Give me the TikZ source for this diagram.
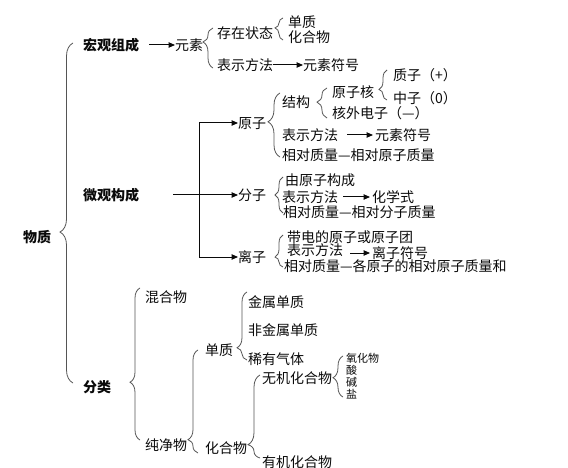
\documentclass[tikz,border=0pt]{standalone}
\usepackage{fontspec}
\setmainfont{Noto Sans CJK SC}
\usetikzlibrary{arrows.meta,calc,decorations.pathreplacing}
\definecolor{Ink}{RGB}{10,10,10}
\definecolor{BraceGray}{RGB}{85,85,85}
\tikzset{
  >=Triangle,
  item/.style={anchor=west,inner sep=0pt,text=Ink,font=\fontsize{14}{16}\selectfont,text height=10.6pt,text depth=0pt},
  small/.style={item,font=\fontsize{11}{13}\selectfont,text height=8.4pt},
  head/.style={item,font=\fontsize{14}{16}\selectfont\bfseries},
  arr/.style={-{Triangle[length=6.5pt,width=5.5pt]},line width=1pt,draw=Ink},
  brc/.style 2 args={draw=BraceGray,line width=.8pt,decorate,decoration={brace,mirror,amplitude=#1,aspect=#2}}
}

\begin{document}
\begin{tikzpicture}[x=1pt,y=-1pt]
  \path[use as bounding box] (0,0) rectangle (568,468);
  % top level
  \node[head] (wuzhi) at (23,237) {物质};
  \node[head] (hongguan) at (83,45) {宏观组成};
  \node[head] (weiguan) at (83,195) {微观构成};
  \node[head] (fenlei) at (83,387) {分类};
  % macro composition
  \node[item] (yuansu) at (175,45) {元素};
  \node[item] (cunzai) at (217,33) {存在状态};
  \node[item] (danzhiA) at (288,22) {单质};
  \node[item] (huaheA) at (288,37) {化合物};
  \node[item] (biaoshiA) at (217,65) {表示方法};
  \node[item] (fuhaoA) at (303,65) {元素符号};
  % micro structure
  \coordinate (fork) at (199,195);
  \node[item] (yuanzi) at (238,123) {原子};
  \node[item] (jiegou) at (282,102) {结构};
  \node[item] (hezi) at (332,92) {原子核};
  \node[item] (zhizi) at (393,75) {质子（+）};
  \node[item] (zhongzi) at (393,98) {中子（0）};
  \node[item] (hewai) at (332,113) {核外电子（—）};
  \node[item] (biaoshiB) at (282,135) {表示方法};
  \node[item] (fuhaoB) at (375,135) {元素符号};
  \node[item] (zhiliangA) at (282,155) {相对质量—相对原子质量};
  \node[item] (fenzi) at (238,195) {分子};
  \node[item] (goucheng) at (285,180) {由原子构成};
  \node[item] (biaoshiC) at (282,197) {表示方法};
  \node[item] (huaxueshi) at (372,197) {化学式};
  \node[item] (zhiliangB) at (283,212) {相对质量—相对分子质量};
  \node[item] (lizi) at (238,257) {离子};
  \node[item] (daidian) at (287,237) {带电的原子或原子团};
  \node[item] (biaoshiD) at (287,250) {表示方法};
  \node[item] (fuhaoC) at (372,253) {离子符号};
  \node[item] (zhiliangC) at (284,266) {相对质量—各原子的相对原子质量和};
  % classification
  \node[item] (hunhe) at (145,297) {混合物};
  \node[item] (chunjing) at (145,445) {纯净物};
  \node[item] (danzhiB) at (205,350) {单质};
  \node[item] (jinshu) at (248,302) {金属单质};
  \node[item] (feijinshu) at (248,330) {非金属单质};
  \node[item] (xiyou) at (248,359) {稀有气体};
  \node[item] (huaheB) at (205,448) {化合物};
  \node[item] (wuji) at (262,378) {无机化合物};
  \node[item] (youji) at (262,462) {有机化合物};
  \node[small] (yanghua) at (346,358) {氧化物};
  \node[small] (suan) at (346,370) {酸};
  \node[small] (jian) at (346,382) {碱};
  \node[small] (yan) at (346,394) {盐};
  % arrows
  \draw[arr,shorten <=10pt] (hongguan.east) -- (yuansu.west);
  \draw[arr] (biaoshiA.east) -- (fuhaoA.west);
  \draw[arr,shorten <=34pt] (weiguan.east) -- (fenzi.west);
  \draw[arr] (fork) |- (yuanzi.west);
  \draw[arr] (fork) |- (lizi.west);
  \draw[arr,shorten <=9pt,shorten >=2pt] (biaoshiB.east) -- (fuhaoB.west);
  \draw[arr,shorten <=5pt,shorten >=2pt] (biaoshiC.east) -- (huaxueshi.west);
  \draw[arr,shorten <=7pt,shorten >=2pt] ([yshift=-3pt]biaoshiD.east) -- ([yshift=-3pt]biaoshiD.east -| fuhaoC.west);
  % braces
  \draw[brc={13pt}{.556}] ($(hongguan.west)+(-10,-2)$) -- ($(fenlei.west)+(-10,-4)$);
  \draw[brc={10pt}{.35}] ($(cunzai.west)+(-4,-5)$) -- ($(biaoshiA.west)+(-4,3)$);
  \draw[brc={8pt}{.45}] ($(danzhiA.west)+(-5,-4)$) -- ($(huaheA.west)+(-5,3)$);
  \draw[brc={12pt}{.45}] ($(jiegou.west)+(-2,-9)$) -- ($(zhiliangA.west)+(-2,2)$);
  \draw[brc={10pt}{.47}] ($(hezi.west)+(-5,-4)$) -- ($(hewai.west)+(-5,5)$);
  \draw[brc={8pt}{.65}] ($(zhizi.west)+(-6,-5)$) -- ($(zhongzi.west)+(-6,2)$);
  \draw[brc={8pt}{.5}] ($(goucheng.west)+(-2,-3)$) -- ($(goucheng.west |- zhiliangB.west)+(-2,1)$);
  \draw[brc={8pt}{.69}] ($(daidian.west)+(-4,-2)$) -- ($(daidian.west |- zhiliangC.west)+(-4,1)$);
  \draw[brc={10pt}{.62}] ($(hunhe.west)+(-5,-9)$) -- ($(chunjing.west)+(-5,-5)$);
  \draw[brc={10pt}{.87}] ($(danzhiB.west)+(-7,0)$) -- ($(huaheB.west)+(-7,5)$);
  \draw[brc={10pt}{.82}] ($(jinshu.west)+(-1,-10)$) -- ($(xiyou.west)+(-1,1)$);
  \draw[brc={12pt}{.84}] ($(wuji.west)+(-2,-3)$) -- ($(youji.west)+(-2,-4)$);
  \draw[brc={10pt}{.53}] ($(yanghua.west)+(-3,-2)$) -- ($(yan.west)+(-3,3)$);
\end{tikzpicture}
\end{document}
